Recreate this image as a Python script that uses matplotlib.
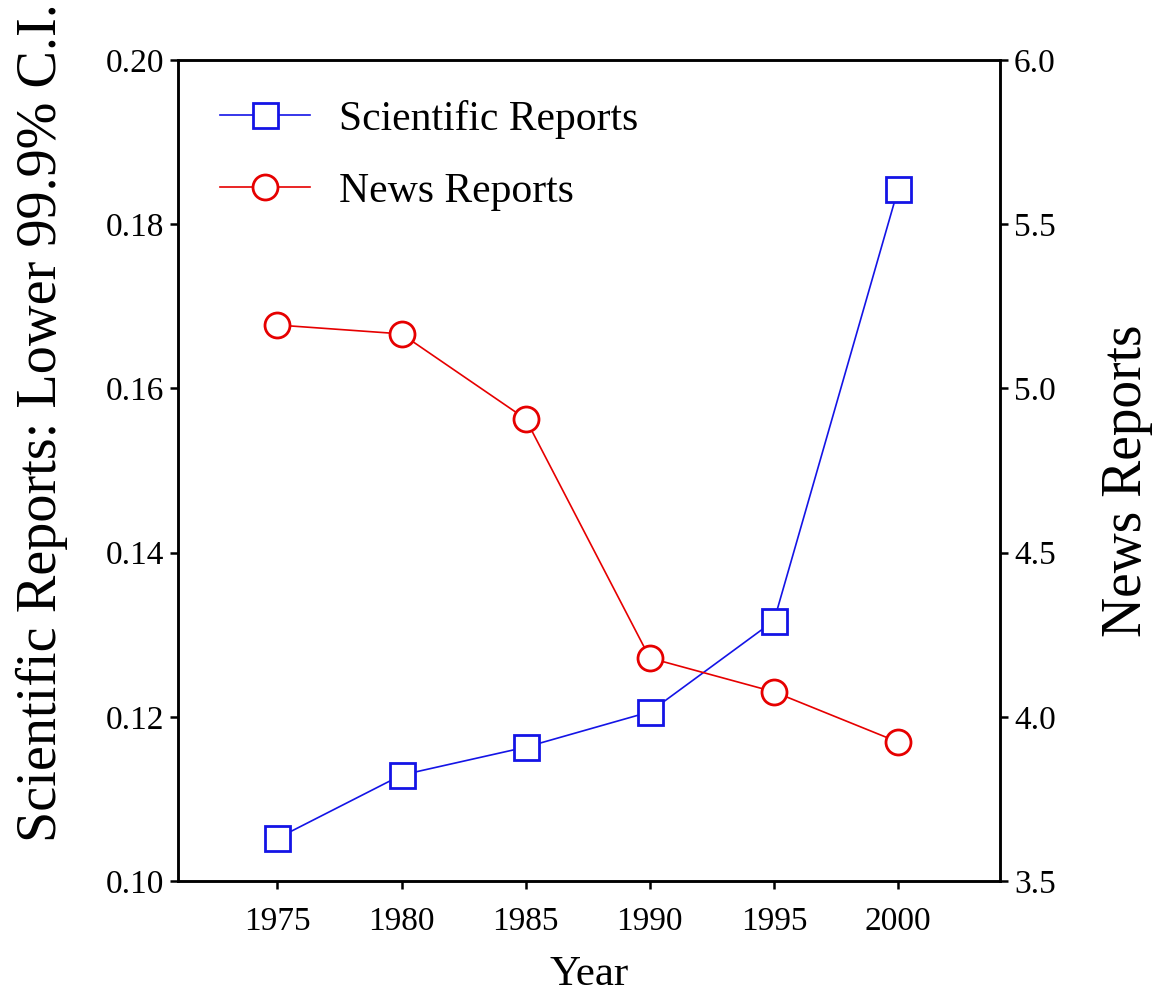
import matplotlib
matplotlib.use("Agg")
import matplotlib.pyplot as plt

plt.rcParams['font.family'] = ['Liberation Serif', 'DejaVu Serif']

years = [1975, 1980, 1985, 1990, 1995, 2000]
scientific = [0.1052, 0.1129, 0.1163, 0.1206, 0.1317, 0.1843]
news = [5.193, 5.166, 4.907, 4.179, 4.076, 3.923]

left_ticks = [0.10, 0.12, 0.14, 0.16, 0.18, 0.20]
right_ticks = [3.5, 4.0, 4.5, 5.0, 5.5, 6.0]

blue = '#1414e6'
red = '#e60000'

fig = plt.figure(figsize=(11.58, 9.97), dpi=100)
ax = fig.add_axes([178/1158, 1-881/997, 822/1158, 821/997])
ax2 = ax.twinx()

l1, = ax.plot(years, scientific, color=blue, lw=1.2, marker='s', ms=18,
              mfc='white', mec=blue, mew=2.0, label='Scientific Reports')
l2, = ax2.plot(years, news, color=red, lw=1.2, marker='o', ms=18,
               mfc='white', mec=red, mew=2.0, label='News Reports')

ax.set_xlim(1971, 2004.1)
ax.set_ylim(0.10, 0.20)
ax2.set_ylim(3.5, 6.0)
ax.set_xticks(years)
ax.set_yticks(left_ticks)
ax.set_yticklabels(['%.2f' % v for v in left_ticks])
ax2.set_yticks(right_ticks)
ax2.set_yticklabels(['%.1f' % v for v in right_ticks])

for a in (ax, ax2):
    for s in a.spines.values():
        s.set_linewidth(1.8)
    a.tick_params(direction='out', length=6, width=1.8, labelsize=24, pad=4)
ax.tick_params(axis='x', pad=12)

ax.set_xlabel('Year', fontsize=31, labelpad=14)
fig.text(42/1158, 1-842/997, 'Scientific Reports: Lower 99.9% C.I.',
         rotation=90, ha='center', va='bottom', fontsize=40.5)
fig.text(1127/1158, 1-481/997, 'News Reports',
         rotation=90, ha='center', va='center', fontsize=40)

ax2.legend([l1, l2], ['Scientific Reports', 'News Reports'], frameon=False,
           loc='upper left', bbox_to_anchor=(42/822, 1-40/821),
           borderpad=0, borderaxespad=0, fontsize=30, handlelength=2.15,
           handletextpad=0.7, labelspacing=0.8)

fig.savefig('out.png', dpi=100)
